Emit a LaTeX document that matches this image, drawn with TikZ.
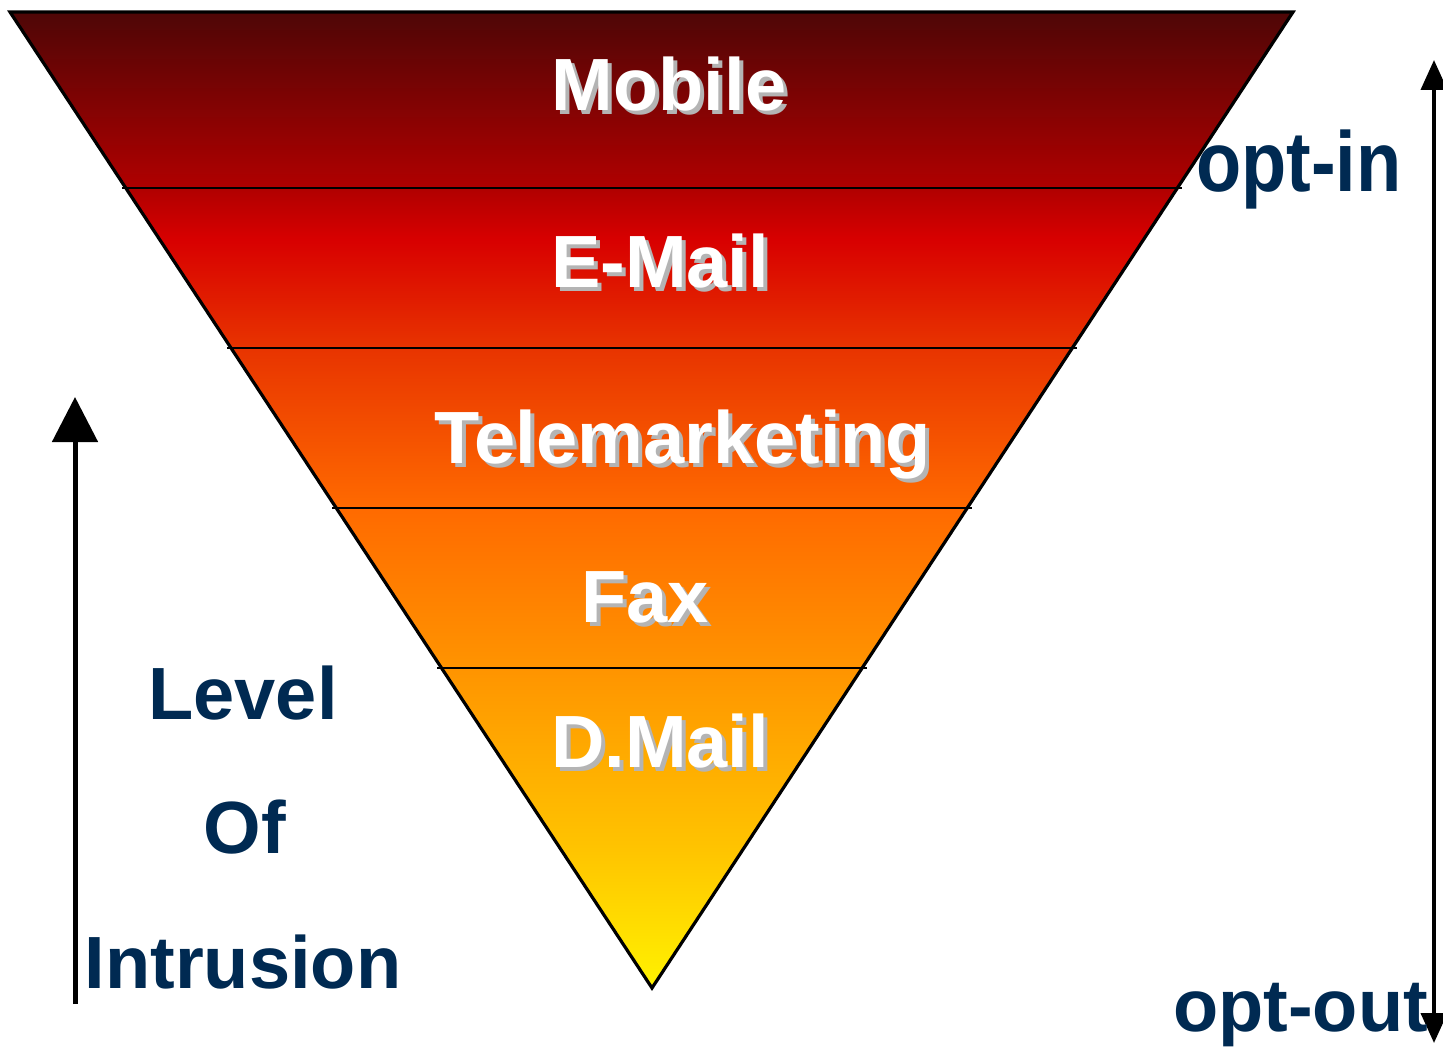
\documentclass[tikz,border=0pt]{standalone}
\usepackage{fontspec}
\setmainfont{Liberation Sans}
\usetikzlibrary{arrows.meta,calc}

% Vertical colour ramp for the funnel (path box maps to 25bp..75bp)
\pgfdeclareverticalshading{funnelramp}{100bp}{%
  rgb(0bp)=(1,0.949,0);
  rgb(25bp)=(1,0.949,0);
  rgb(32.07bp)=(1,0.769,0);
  rgb(41.39bp)=(1,0.580,0);
  rgb(49.59bp)=(1,0.416,0);
  rgb(57.79bp)=(0.910,0.204,0);
  rgb(63.32bp)=(0.847,0,0);
  rgb(65.98bp)=(0.690,0,0);
  rgb(75bp)=(0.306,0.024,0.024);
  rgb(100bp)=(0.306,0.024,0.024)}

\definecolor{navy}{RGB}{0,42,82}
\definecolor{shadowgray}{RGB}{180,180,180}

\tikzset{
  bigfont/.style={font=\fontsize{74}{88}\selectfont\bfseries, inner sep=0pt, anchor=base},
  layerlabel/.style={bigfont, text=white},
  sidelabel/.style={bigfont, text=navy},
  divider/.style={line width=1.5pt, black},
  outline/.style={line width=3.2pt, black, line join=miter},
  bigarrow/.style={line width=5pt, -{Triangle[width=45pt,length=45pt]}},
  rangearrow/.style={line width=4pt, {Triangle[width=26pt,length=30pt]}-{Triangle[width=26pt,length=30pt]}}
}

% White text with a grey drop shadow, set in one box
\newcommand{\shadowed}[1]{%
  \rlap{\hspace{4pt}\raisebox{-4pt}{\textcolor{shadowgray}{#1}}}#1}

\begin{document}
\begin{tikzpicture}[x=1pt,y=-1pt]
  \useasboundingbox (0,0) rectangle (1443,1056);

  % funnel corners
  \coordinate (TL) at (10,12);
  \coordinate (TR) at (1293,12);
  \coordinate (B)  at (652,988);

  % gradient fill
  \path[shading=funnelramp] (TL) -- (TR) -- (B) -- cycle;

  % layer dividers
  \foreach \t/\n in {0.1803/a,0.3443/b,0.5082/c,0.6721/d}{
    \coordinate (L\n) at ($(TL)!\t!(B)$);
    \coordinate (R\n) at ($(TR)!\t!(B)$);
    \draw[divider] ([xshift=-4pt]L\n) -- ([xshift=5pt]R\n);
  }

  % funnel outline
  \draw[outline] (TL) -- (TR) -- (B) -- cycle;

  % layer labels
  \node[layerlabel] (mobile) at (669,111) {\shadowed{Mobile}};
  \node[layerlabel] (email)  at (660,288) {\shadowed{E-Mail}};
  \node[layerlabel] (tele)   at (683,463) {\shadowed{Telemarketing}};
  \node[layerlabel] (fax)    at (645,622) {\shadowed{Fax}};
  \node[layerlabel] (dmail)  at (660,767) {\shadowed{D.Mail}};

  % level of intrusion
  \coordinate (la0) at (75,1004);
  \coordinate (la1) at (75,397);
  \draw[bigarrow] (la0) -- (la1);
  \node[sidelabel] (lvl)  at (243,719) {Level};
  \node[sidelabel] (of)   at (245,853) {Of};
  \node[sidelabel] (intr) at (243,988) {Intrusion};

  % opt-in / opt-out range
  \coordinate (ra0) at (1434,60);
  \coordinate (ra1) at (1434,1043);
  \draw[rangearrow] (ra0) -- (ra1);
  \node[sidelabel, anchor=base west, yscale=1.15] (optin) at (1196,192) {opt-in};
  \node[sidelabel, anchor=base west] (optout) at (1173,1031) {opt-out};
\end{tikzpicture}
\end{document}
